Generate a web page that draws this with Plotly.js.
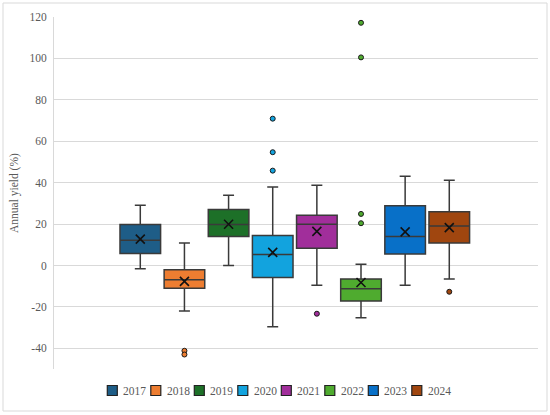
<!DOCTYPE html>
<html>
<head>
<meta charset="utf-8">
<script src="https://cdn.plot.ly/plotly-3.0.1.min.js"></script>
<style>
html,body{margin:0;padding:0;background:#fff;}
#chart{width:550px;height:415px;}
</style>
</head>
<body>
<div id="chart"></div>
<script>
// ---- data ----
var years = ['2017','2018','2019','2020','2021','2022','2023','2024'];
var lowerFence = [-1.6, -22.0, 0.0, -29.6, -9.5, -25.3, -9.5, -6.5];
var q1Vals     = [5.8, -11.0, 14.0, -5.8, 8.3, -17.2, 5.6, 10.9];
var medianVals = [12.2, -6.9, 19.8, 5.3, 19.9, -11.3, 14.0, 19.1];
var q3Vals     = [19.8, -2.1, 27.0, 14.5, 24.3, -6.5, 28.8, 25.9];
var upperFence = [29.1, 10.9, 33.9, 37.9, 38.7, 0.6, 43.1, 41.2];
var meanVals   = [12.7, -7.7, 19.9, 6.3, 16.5, -8.2, 16.2, 18.3];
var outliers   = [[], [-41.2, -43.0], [], [70.9, 54.7, 45.8], [-23.3], [117.2, 100.5, 24.9, 20.4], [], [-12.7]];
var colors = ['#1e5d87','#ed7d31','#1d7028','#12a3de','#a12e9b','#4fab2f','#0870c8','#a0460f'];
var yTicks = [-40, -20, 0, 20, 40, 60, 80, 100, 120];

// ---- layout geometry ----
var W = 550, H = 415;
var mL = 54, mR = 12, mT = 17, mB = 46;
var pw = W - mL - mR, ph = H - mT - mB;
function px2x(p){ return (p - mL) / pw; }
function px2y(p){ return (H - mB - p) / ph; }

var fontFam = '"Liberation Serif", "Times New Roman", serif';
var textCol = '#595959';

var traces = [];
years.forEach(function(y, i){
  traces.push({
    type: 'box',
    name: y,
    x: [i],
    q1: [q1Vals[i]],
    median: [medianVals[i]],
    q3: [q3Vals[i]],
    lowerfence: [lowerFence[i]],
    upperfence: [upperFence[i]],
    boxpoints: false,
    width: 0.92,
    whiskerwidth: 0.27,
    fillcolor: colors[i],
    line: {color: '#3a3a3a', width: 1.5},
    showlegend: false,
    hoverinfo: 'skip'
  });
});
// outliers
years.forEach(function(y, i){
  if (!outliers[i].length) return;
  traces.push({
    type: 'scatter', mode: 'markers',
    x: outliers[i].map(function(){ return i; }),
    y: outliers[i],
    marker: {symbol: 'circle', size: 5, color: colors[i], line: {color: '#1a1a1a', width: 1}},
    showlegend: false, hoverinfo: 'skip'
  });
});
// means
traces.push({
  type: 'scatter', mode: 'markers',
  x: years.map(function(_, i){ return i; }),
  y: meanVals,
  marker: {symbol: 'x-thin-open', size: 9, color: '#111', line: {color: '#111', width: 1.6}},
  showlegend: false, hoverinfo: 'skip'
});

// manual legend
var shapes = [];
var annotations = [];
var legStart = 107.3, legStep = 43.5, legY = 390.5;
years.forEach(function(y, i){
  var x0 = legStart + legStep * i;
  shapes.push({
    type: 'rect', xref: 'paper', yref: 'paper',
    x0: px2x(x0), x1: px2x(x0 + 10),
    y0: px2y(legY + 5), y1: px2y(legY - 5),
    fillcolor: colors[i], line: {color: '#222', width: 1.2}
  });
  annotations.push({
    xref: 'paper', yref: 'paper',
    x: px2x(x0 + 14), y: px2y(legY),
    xanchor: 'left', yanchor: 'middle',
    text: y, showarrow: false,
    font: {family: fontFam, size: 11.5, color: textCol}
  });
});
// outer border
shapes.push({
  type: 'rect', xref: 'paper', yref: 'paper',
  x0: px2x(3), x1: px2x(547), y0: px2y(411), y1: px2y(3),
  line: {color: '#d9d9d9', width: 1}, fillcolor: 'rgba(0,0,0,0)', layer: 'below'
});
// y axis title
annotations.push({
  xref: 'paper', yref: 'paper',
  x: px2x(14), y: 0.5,
  xanchor: 'center', yanchor: 'middle',
  text: 'Annual yield (%)', textangle: -90, showarrow: false,
  font: {family: fontFam, size: 11.5, color: textCol}
});

var layout = {
  width: W, height: H,
  margin: {l: mL, r: mR, t: mT, b: mB, pad: 0},
  paper_bgcolor: '#fff', plot_bgcolor: '#fff',
  font: {family: fontFam, size: 11, color: textCol},
  showlegend: false,
  boxmode: 'overlay',
  xaxis: {
    range: [-1.955, 9.01], showticklabels: false, showgrid: false,
    zeroline: false, showline: false, fixedrange: true
  },
  yaxis: {
    range: [-50, 120], tickvals: yTicks, ticktext: yTicks.map(String),
    showgrid: true, gridcolor: '#d9d9d9', gridwidth: 1,
    zeroline: false, showline: true, linecolor: '#d9d9d9', linewidth: 1,
    ticks: '', ticklabelstandoff: 4,
    tickfont: {family: fontFam, size: 11.5, color: textCol},
    fixedrange: true
  },
  shapes: shapes,
  annotations: annotations
};

Plotly.newPlot('chart', traces, layout, {staticPlot: true, displayModeBar: false});
</script>
</body>
</html>
